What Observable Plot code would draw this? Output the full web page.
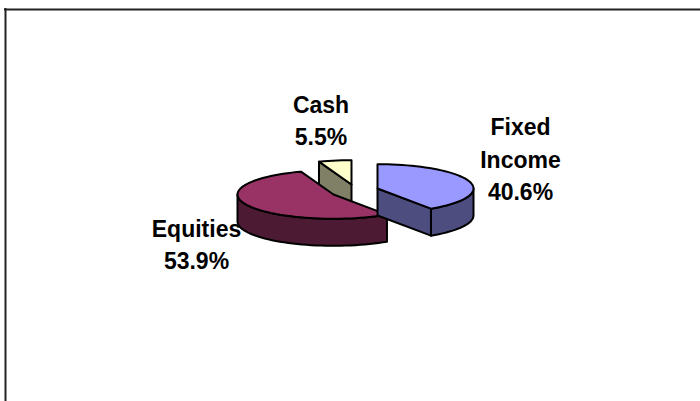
<!DOCTYPE html>
<html><head><meta charset="utf-8">
<script src="https://cdn.jsdelivr.net/npm/d3@7"></script>
<script src="https://cdn.jsdelivr.net/npm/@observablehq/plot@0.6"></script>
<style>html,body{margin:0;padding:0;background:#fff}svg{display:block}</style>
</head><body><div id="chart"></div>
<script>
const categories = ["Fixed Income", "Equities", "Cash"];
const shares = [40.6, 53.9, 5.5];
const topColors = ["#9999ff", "#993366", "#ffffcc"];
const wallColors = ["#4d4d80", "#4d1a33", "#808066"];
const labelLines = [["Fixed", "Income", "40.6%"], ["Equities", "53.9%"], ["Cash", "5.5%"]];

// layout of the 3D pie (exploded centres, ellipse radii, depth)
const centers = [[377, 188], [333, 194], [351, 184]];
const rx = 96, ry = 24.3, depth = 27;
const labelAnchors = [[520, 127.5], [196, 229.3], [320.5, 105.3]];
const lineStep = 32.3;

const total = d3.sum(shares);
let acc = 0;
const spans = shares.map(s => { const a = acc; acc += s; return [a / total * 360, acc / total * 360]; });

function pt(i, deg, dz = 0) {
  const r = deg * Math.PI / 180, [cx, cy] = centers[i];
  return [cx + rx * Math.sin(r), cy - ry * Math.cos(r) + dz];
}
function arc(i, a0, a1, dz = 0) {
  const n = Math.max(2, Math.ceil(Math.abs(a1 - a0) / 3));
  return d3.range(n + 1).map(k => pt(i, a0 + (a1 - a0) * k / n, dz));
}
const polys = [];
function add(i, kind, pts) {
  polys.push({fill: kind === "top" ? topColors[i] : wallColors[i], pts: [...pts, pts[0]], name: categories[i]});
}
function slice(i, cutAngles, outer) {
  const [a0, a1] = spans[i], c = centers[i];
  if (outer) add(i, "wall", [...arc(i, outer[0], outer[1]), ...arc(i, outer[1], outer[0], depth)]);
  cutAngles.forEach(a => add(i, "wall", [c, pt(i, a), pt(i, a, depth), [c[0], c[1] + depth]]));
  add(i, "top", [c, ...arc(i, a0, a1)]);
}
slice(2, [spans[2][0]], null);
slice(1, [], [spans[1][0], 270]);
slice(0, [spans[0][1]], [90, spans[0][1]]);

const texts = labelLines.flatMap((lines, i) => lines.map((t, k) => ({t, x: labelAnchors[i][0], y: labelAnchors[i][1] + k * lineStep})));

const W = 700, H = 401;
const plot = Plot.plot({
  width: W, height: H, margin: 0,
  x: {domain: [0, W], range: [0, W], axis: null},
  y: {domain: [0, H], range: [0, H], axis: null},
  style: {background: "#fff"},
  marks: [
    Plot.ruleY([9], {x1: 4, x2: W, stroke: "#222", strokeWidth: 2}),
    Plot.ruleX([5], {y1: 8, y2: H, stroke: "#222", strokeWidth: 2}),
    ...polys.map(p => Plot.line(p.pts, {x: d => d[0], y: d => d[1], fill: p.fill, stroke: "#000", strokeWidth: 2, curve: "linear-closed", strokeLinejoin: "round"})),
    Plot.text(texts, {x: "x", y: "y", text: "t", fontSize: 23, fontWeight: "bold", fontFamily: "Liberation Sans", fill: "#000", textAnchor: "middle"})
  ]
});
document.getElementById("chart").appendChild(plot);
</script></body></html>
